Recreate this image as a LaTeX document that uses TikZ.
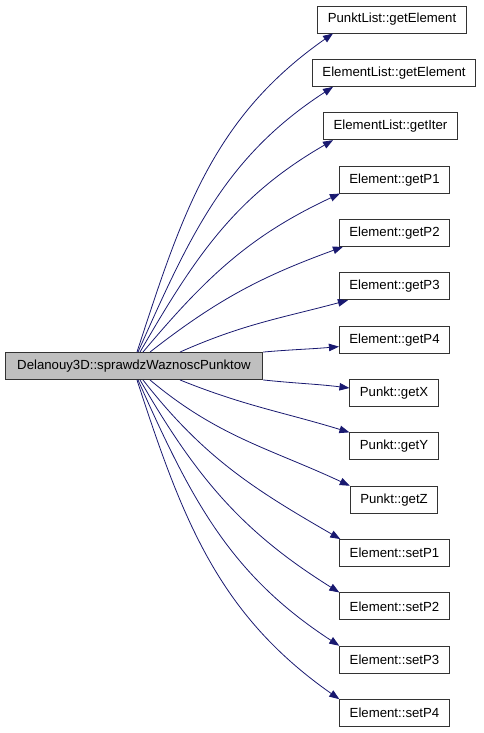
\documentclass[tikz,border=0pt]{standalone}
\usepackage{fontspec}
\setmainfont{Liberation Sans}
\usepackage{tikz}
\usetikzlibrary{arrows.meta}
\definecolor{edgeblue}{RGB}{25,25,112}
\definecolor{maingray}{RGB}{191,191,191}

\begin{document}
\begin{tikzpicture}[x=1pt,y=1pt,>={Triangle[length=10pt,width=7.5pt]},
  box/.style={draw=black!80,line width=0.9pt,minimum height=27pt,inner xsep=10pt,
    font=\fontsize{13.2}{15}\selectfont},
  call/.style={->,draw=edgeblue,line width=0.8pt}]
\useasboundingbox (0,0) rectangle (483,-733);

\node[box,fill=maingray,inner xsep=12pt] (S) at (134,-366) {Delanouy3D::sprawdzWaznoscPunktow};

\node[box] (plGet) at (392,-19.5) {PunktList::getElement};
\node[box] (elGet) at (394,-72.9) {ElementList::getElement};
\node[box] (elIter) at (390.5,-126.2) {ElementList::getIter};
\node[box] (gP1) at (394.5,-179.6) {Element::getP1};
\node[box] (gP2) at (394.5,-232.9) {Element::getP2};
\node[box] (gP3) at (394.5,-286.3) {Element::getP3};
\node[box] (gP4) at (394.5,-339.6) {Element::getP4};
\node[box] (gX) at (394,-393) {Punkt::getX};
\node[box] (gY) at (394,-446.3) {Punkt::getY};
\node[box] (gZ) at (394,-499.7) {Punkt::getZ};
\node[box] (sP1) at (394.5,-553) {Element::setP1};
\node[box] (sP2) at (394.5,-606.4) {Element::setP2};
\node[box] (sP3) at (394.5,-659.7) {Element::setP3};
\node[box] (sP4) at (394.5,-713.1) {Element::setP4};

\draw[call] ([xshift=3pt]S.north) to[out=72,in=215] ([xshift=-59pt]plGet.south);
\draw[call] ([xshift=4pt]S.north) to[out=66,in=213] ([xshift=-61pt]elGet.south);
\draw[call] ([xshift=6pt]S.north) to[out=60,in=210] ([xshift=-57.5pt]elIter.south);
\draw[call] ([xshift=9pt]S.north) to[out=50,in=205] ([xshift=1pt]gP1.south west);
\draw[call] ([xshift=16pt]S.north) to[out=38,in=200] ([xshift=4pt]gP2.south west);
\draw[call] ([xshift=46pt]S.north) to[out=24,in=195] ([xshift=9pt]gP3.south west);
\draw[call] (S.north east) to[out=5,in=185] ([yshift=-7pt]gP4.west);
\draw[call] (S.south east) to[out=-6,in=173] ([yshift=5pt]gX.west);
\draw[call] ([xshift=46pt]S.south) to[out=-22,in=163] (gY.north west);
\draw[call] ([xshift=16pt]S.south) to[out=-40,in=155] (gZ.north west);
\draw[call] ([xshift=9pt]S.south) to[out=-52,in=150] ([xshift=1pt]sP1.north west);
\draw[call] ([xshift=6pt]S.south) to[out=-60,in=148] (sP2.north west);
\draw[call] ([xshift=4pt]S.south) to[out=-66,in=147] (sP3.north west);
\draw[call] ([xshift=3pt]S.south) to[out=-72,in=145] (sP4.north west);
\end{tikzpicture}
\end{document}
